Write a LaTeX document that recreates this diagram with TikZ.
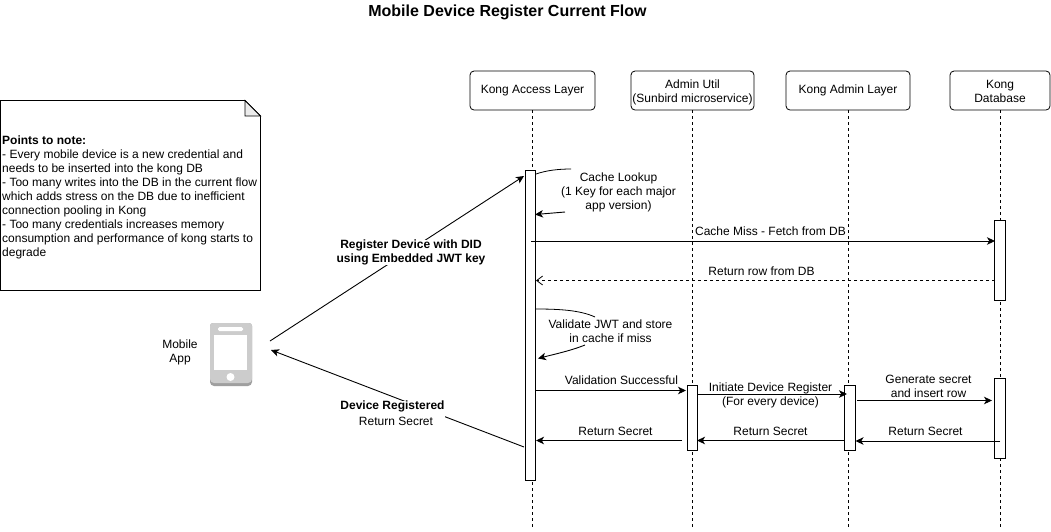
\documentclass[tikz,border=0pt]{standalone}
\usepackage{fontspec}
\setmainfont{Liberation Sans}
\usetikzlibrary{arrows.meta}
\tikzset{
  x=1pt,y=-1pt,
  txt/.style={inner sep=0pt,align=center,font=\fontsize{12}{14}\selectfont},
  head/.style={draw,rounded corners=4pt,line width=0.8pt,minimum width=#1,minimum height=39pt,inner sep=0pt,align=center,font=\fontsize{12}{14}\selectfont,fill=white},
  bar/.style={draw,fill=white,line width=1pt,minimum width=10.5pt,minimum height=#1,inner sep=0pt},
  life/.style={line width=0.8pt,dash pattern=on 3pt off 3pt},
  msg/.style={line width=0.9pt,-{Stealth[length=8pt,width=7.5pt,inset=2.2pt]}},
  ret/.style={line width=0.8pt,dash pattern=on 3pt off 3pt,-{Straight Barb[length=6pt,width=9pt]}},
  plain/.style={line width=0.8pt}
}
\begin{document}
\begin{tikzpicture}
\useasboundingbox (0,0) rectangle (1051,531);
\fill[white] (0,0) rectangle (1051,531);
% title
\node[txt,font=\fontsize{16}{18}\bfseries\selectfont] (title) at (507.5,12) {Mobile Device Register Current Flow};
% headers
\node[head=125pt] (access) at (532.5,90.5) {\raisebox{-1pt}{Kong Access Layer}};
\node[head=123pt,text depth=0pt] (util) at (692.5,90.5) {\raisebox{-1pt}{Admin Util}\\\raisebox{-1pt}{(Sunbird microservice)}};
\node[head=124pt] (admin) at (848,90.5) {\raisebox{-1pt}{Kong Admin Layer}};
\node[head=100pt,text depth=0pt] (db) at (1000,90.5) {\raisebox{-1pt}{Kong}\\\raisebox{-1pt}{Database}};
% lifeline ends
\coordinate (accessEnd) at (532.5,528);
\coordinate (utilEnd) at (692.5,528);
\coordinate (adminEnd) at (848,528);
\coordinate (dbEnd) at (1000,528);
\draw[life] (access) -- (accessEnd);
\draw[life] (util) -- (utilEnd);
\draw[life] (admin) -- (adminEnd);
\draw[life] (db) -- (dbEnd);
% activations
\node[bar=310pt] (accessBar) at (530.5,325) {};
\node[bar=80pt] (dbBarA) at (1000,260) {};
\node[bar=65pt] (utilBar) at (692.5,417.5) {};
\node[bar=65pt] (adminBar) at (850,417.5) {};
\node[bar=80pt] (dbBarB) at (1000,418) {};
% note
\draw[line width=0.9pt,fill=white] (0.5,100.5) -- (245,100.5) -- (260.5,116) -- (260.5,290.5) -- (0.5,290.5) -- cycle;
\draw[line width=0.8pt,fill=gray!15] (245,100.5) -- (245,116) -- (260.5,116) -- cycle;
\node[txt,align=left,anchor=north west] (note) at (2,136) {\textbf{Points to note:}\\- Every mobile device is a new credential and\\needs to be inserted into the kong DB\\- Too many writes into the DB in the current flow\\which adds stress on the DB due to inefficient\\connection pooling in Kong\\- Too many credentials increases memory\\consumption and performance of kong starts to\\degrade};
% phone
\fill[gray!75!black!60] (210,326) arc (180:270:3) -- (249,323) arc (270:360:3) -- (252,382) arc (0:90:4) -- (214,386) arc (90:180:4) -- cycle;
\fill[black!20] (210,326) arc (180:270:3) -- (249,323) arc (270:360:3) -- (252,379) arc (0:90:4) -- (214,383) arc (90:180:4) -- cycle;
\fill[white] (214,335) rectangle (247,370);
\fill[white,rounded corners=1.5pt] (218,327) rectangle (243,331);
\fill[white] (230.5,377) circle (4);
\node[txt] (app) at (180,352) {Mobile\\App};
\coordinate (appOut) at (270,341);
\coordinate (appIn) at (271,350);
% app connectors
\coordinate (accIn) at (524,176);
\coordinate (accOut) at (524,447);
\draw[msg] (appOut) -- (accIn);
\draw[msg] (accOut) -- (appIn);
\node[txt,fill=white,font=\fontsize{12}{14}\bfseries\selectfont] (regLabel) at (411,252.5) {Register Device with DID\\using Embedded JWT key};
\node[txt,fill=white] (doneLabel) at (392.5,413.5) {\textbf{Device Registered}\\[2pt]\hspace*{7pt}Return Secret};
% self calls
\coordinate (cacheA) at (536,174);
\coordinate (cacheB) at (571,169);
\coordinate (cacheC) at (565,212);
\coordinate (cacheD) at (535,214.5);
\draw[plain] (cacheA) .. controls (546,170.5) and (558,169) .. (cacheB);
\draw[msg] (cacheC) -- (cacheD);
\node[txt] (cacheLabel) at (618.5,192) {Cache Lookup\\(1 Key for each major\\app version)};
\coordinate (valA) at (536,309);
\coordinate (valB) at (595,317);
\coordinate (valC) at (585,345);
\coordinate (valD) at (538,358.5);
\draw[plain] (valA) .. controls (558,309) and (580,310) .. (valB);
\draw[msg] (valC) .. controls (570,351) and (555,354) .. (valD);
\node[txt] (valLabel) at (610.5,331.5) {Validate JWT and store\\in cache if miss};
% messages
\coordinate (missA) at (531,241);
\coordinate (missB) at (995,241);
\draw[msg] (missA) -- (missB);
\node[txt] (missLabel) at (770.5,231) {Cache Miss - Fetch from DB};
\coordinate (rowA) at (995,280.5);
\coordinate (rowB) at (536,280.5);
\draw[ret] (rowA) -- (rowB);
\node[txt] (rowLabel) at (761.5,271) {Return row from DB};
\coordinate (okA) at (535.5,390.5);
\coordinate (okB) at (686,390.5);
\draw[msg] (okA) -- (okB);
\node[txt] (okLabel) at (621.5,380.5) {Validation Successful};
\node[txt] (regMsg) at (770.5,395) {Initiate Device Register\\(For every device)};
\coordinate (regA) at (697.5,394);
\coordinate (regB) at (847,394);
\draw[msg] (regA) -- (regB);
\coordinate (genA) at (857,400.5);
\coordinate (genB) at (992,400.5);
\draw[msg] (genA) -- (genB);
\node[txt] (genLabel) at (928.5,386.5) {Generate secret\\and insert row};
\coordinate (secA) at (682,440.5);
\coordinate (secB) at (536,440.5);
\draw[msg] (secA) -- (secB);
\node[txt] (secLabelA) at (615.5,431) {Return Secret};
\coordinate (secC) at (844,440.5);
\coordinate (secD) at (697,440.5);
\draw[msg] (secC) -- (secD);
\node[txt] (secLabelB) at (770.5,431) {Return Secret};
\coordinate (secE) at (1000,441);
\coordinate (secF) at (855.5,441);
\draw[msg] (secE) -- (secF);
\node[txt] (secLabelC) at (925.5,431) {Return Secret};
\end{tikzpicture}
\end{document}
